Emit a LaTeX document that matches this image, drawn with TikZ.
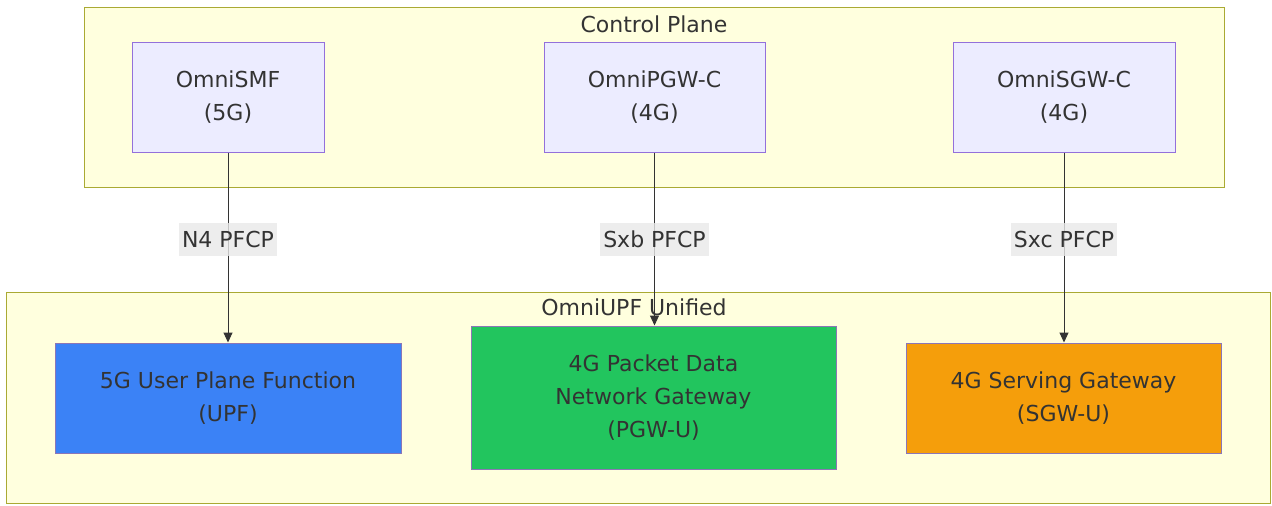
\documentclass[tikz,border=0pt]{standalone}
\usepackage{fontspec}
\setmainfont{DejaVu Sans}
\definecolor{txt}{HTML}{333333}
\definecolor{grpfill}{HTML}{FFFFDE}
\definecolor{grpline}{HTML}{AAAA33}
\definecolor{cpfill}{HTML}{ECECFF}
\definecolor{cpline}{HTML}{9370DB}
\definecolor{upfblue}{HTML}{3B82F6}
\definecolor{pgwgreen}{HTML}{22C55E}
\definecolor{sgworange}{HTML}{F59E0B}
\definecolor{lblfill}{HTML}{E8E8E8}
\usetikzlibrary{arrows.meta}
\begin{document}
\begin{tikzpicture}[x=1pt,y=-1pt,
  every node/.style={text=txt,font=\fontsize{22}{33}\selectfont,align=center},
  group/.style={fill=grpfill,draw=grpline,line width=1pt},
  cpbox/.style={fill=cpfill,draw=cpline,line width=1pt,minimum height=110pt,inner sep=0pt},
  upbox/.style={draw=cpline!60!gray,line width=1pt,inner sep=0pt},
  link/.style={draw=txt,line width=1pt,-{Triangle[length=10pt,width=9pt]}},
  lbl/.style={fill=lblfill,fill opacity=0.8,text opacity=1,inner sep=3pt,minimum height=33pt}]
\useasboundingbox (0,0) rectangle (1272,506);
% subgraphs
\draw[group] (84,7) rectangle (1224,187);
\node (cptitle) at (654,24) {Control Plane};
\draw[group] (6,292) rectangle (1270,503);
\node (uptitle) at (634,307) {OmniUPF Unified};
% control plane
\node[cpbox,minimum width=192pt] (smf) at (228,97) {OmniSMF\\(5G)};
\node[cpbox,minimum width=221pt] (pgwc) at (654.5,97) {OmniPGW-C\\(4G)};
\node[cpbox,minimum width=222pt] (sgwc) at (1064,97) {OmniSGW-C\\(4G)};
% user plane
\node[upbox,fill=upfblue,minimum width=346pt,minimum height=110pt] (upf) at (228,398) {5G User Plane Function\\(UPF)};
\node[upbox,fill=pgwgreen,minimum width=365pt,minimum height=143pt] (pgwu) at (653.5,397.5) {4G Packet Data\\Network Gateway\\(PGW-U)};
\node[upbox,fill=sgworange,minimum width=315pt,minimum height=110pt] (sgwu) at (1063.5,398) {4G Serving Gateway\\(SGW-U)};
% links
\draw[link] (smf.south) -- node[lbl,pos=0.46] {N4 PFCP} (smf.south |- upf.north);
\draw[link] (pgwc.south) -- node[lbl,pos=0.5] {Sxb PFCP} (pgwc.south |- pgwu.north);
\draw[link] (sgwc.south) -- node[lbl,pos=0.46] {Sxc PFCP} (sgwc.south |- sgwu.north);
\end{tikzpicture}
\end{document}
